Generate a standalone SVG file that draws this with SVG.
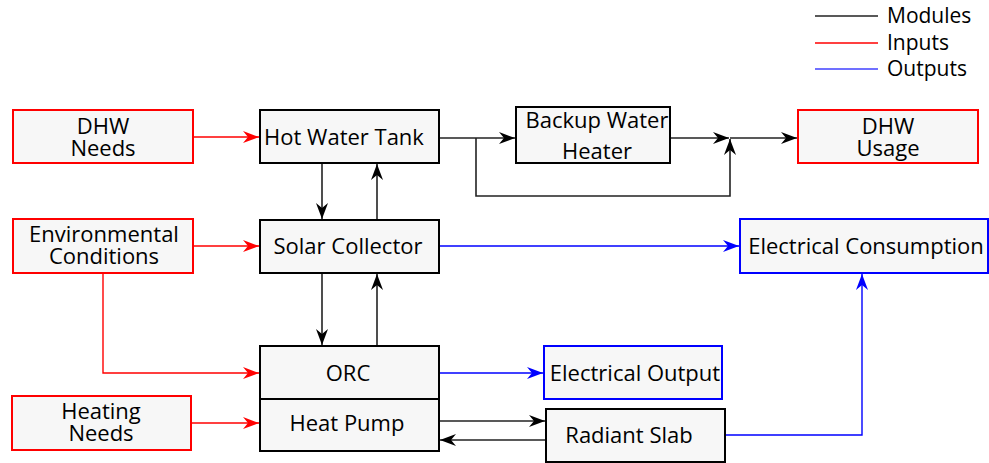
<svg xmlns="http://www.w3.org/2000/svg" width="989" height="463" viewBox="0 0 989 463">
<defs>
<style>
.box{fill:#f7f7f7;stroke:#000;stroke-width:2}
.in{fill:#f7f7f7;stroke:#ff0000;stroke-width:2}
.out{fill:#f7f7f7;stroke:#0000ff;stroke-width:2}
text{font-family:"Open Sans","Noto Sans",sans-serif;font-size:22px;fill:#000;text-anchor:middle}
.lg{text-anchor:start;font-size:21px}
.k{fill:none;stroke:#222;stroke-width:1.6}
.r{fill:none;stroke:#ff0000;stroke-width:1.4}
.b{fill:none;stroke:#0000ff;stroke-width:1.4}
</style>
<marker id="ak" viewBox="0 0 16 12" refX="16" refY="6" markerWidth="16" markerHeight="12" markerUnits="userSpaceOnUse" orient="auto"><path d="M0,0 L16,6 L0,12 L5,6 z" fill="#000"/></marker>
<marker id="ar" viewBox="0 0 16 12" refX="16" refY="6" markerWidth="16" markerHeight="12" markerUnits="userSpaceOnUse" orient="auto"><path d="M0,0 L16,6 L0,12 L5,6 z" fill="#ff0000"/></marker>
<marker id="ab" viewBox="0 0 16 12" refX="16" refY="6" markerWidth="16" markerHeight="12" markerUnits="userSpaceOnUse" orient="auto"><path d="M0,0 L16,6 L0,12 L5,6 z" fill="#0000ff"/></marker>
</defs>
<rect width="989" height="463" fill="#fff"/>
<g id="legend">
<line x1="815" y1="16" x2="878" y2="16" stroke="#222" stroke-width="1.6"/>
<line x1="815" y1="43" x2="878" y2="43" stroke="#ff0000" stroke-width="1.4"/>
<line x1="815" y1="69" x2="878" y2="69" stroke="#4040ff" stroke-width="1.4"/>
<text class="lg" x="887" y="23">Modules</text>
<text class="lg" x="887" y="50">Inputs</text>
<text class="lg" x="887" y="76">Outputs</text>
</g>
<g id="connectors">
<path class="r" d="M193,137 H259" marker-end="url(#ar)"/>
<path class="r" d="M193,246 H259" marker-end="url(#ar)"/>
<path class="r" d="M103,273 V373 H259" marker-end="url(#ar)"/>
<path class="r" d="M191,423 H259" marker-end="url(#ar)"/>
<path class="k" d="M322,163 V219" marker-end="url(#ak)"/>
<path class="k" d="M377,220 V164" marker-end="url(#ak)"/>
<path class="k" d="M322,273 V345" marker-end="url(#ak)"/>
<path class="k" d="M377,346 V274" marker-end="url(#ak)"/>
<path class="k" d="M439,138 H515" marker-end="url(#ak)"/>
<path class="k" d="M476,138 V196 H730 V139" marker-end="url(#ak)"/>
<path class="k" d="M670,138 H729" marker-end="url(#ak)"/>
<path class="k" d="M730,138 H797" marker-end="url(#ak)"/>
<path class="b" d="M439,246 H739" marker-end="url(#ab)"/>
<path class="b" d="M439,373 H543" marker-end="url(#ab)"/>
<path class="k" d="M439,421 H545" marker-end="url(#ak)"/>
<path class="k" d="M546,440 H440" marker-end="url(#ak)"/>
<path class="b" d="M725,435 H862 V274" marker-end="url(#ab)"/>
</g>
<g id="dhw-needs"><rect class="in" x="13" y="110" width="180" height="53"/><text x="103" y="134">DHW</text><text x="103" y="156">Needs</text></g>
<g id="hot-water-tank"><rect class="box" x="260" y="110" width="179" height="53"/><text x="344" y="145">Hot Water Tank</text></g>
<g id="backup-water-heater"><rect class="box" x="516" y="107" width="154" height="56"/><text x="597" y="128">Backup Water</text><text x="597" y="159">Heater</text></g>
<g id="dhw-usage"><rect class="in" x="798" y="110" width="180" height="53"/><text x="888" y="134">DHW</text><text x="888" y="156">Usage</text></g>
<g id="environmental-conditions"><rect class="in" x="13" y="219" width="180" height="54"/><text x="104" y="242">Environmental</text><text x="104" y="264">Conditions</text></g>
<g id="solar-collector"><rect class="box" x="260" y="220" width="179" height="53"/><text x="348" y="254">Solar Collector</text></g>
<g id="electrical-consumption"><rect class="out" x="740" y="219" width="248" height="54"/><text x="866" y="254">Electrical Consumption</text></g>
<g id="orc"><rect class="box" x="260" y="346" width="179" height="53"/><text x="348" y="381">ORC</text></g>
<g id="heat-pump"><rect class="box" x="260" y="399" width="179" height="52"/><text x="347" y="431">Heat Pump</text></g>
<g id="heating-needs"><rect class="in" x="12" y="396" width="179" height="54"/><text x="101" y="419">Heating</text><text x="101" y="441">Needs</text></g>
<g id="electrical-output"><rect class="out" x="544" y="346" width="178" height="53"/><text x="635" y="381">Electrical Output</text></g>
<g id="radiant-slab"><rect class="box" x="546" y="409" width="179" height="53"/><text x="629" y="443">Radiant Slab</text></g>
</svg>
